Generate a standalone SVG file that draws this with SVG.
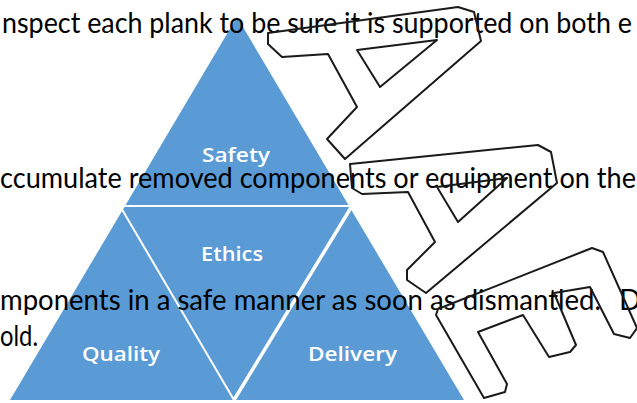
<svg xmlns="http://www.w3.org/2000/svg" width="637" height="403" viewBox="0 0 637 403">
<style>
.body{font-family:Lato,"Liberation Sans",sans-serif;font-size:29px;fill:#000}
.lbl{font-family:"Open Sans","Liberation Sans",sans-serif;font-size:19px;font-weight:600;fill:#fff}
.ol{fill:none;stroke:#1a1a1a;stroke-width:2;stroke-linejoin:round}
.sep{stroke:#fff;fill:none}
</style>
<rect width="637" height="403" fill="#fff"/>
<g id="pyramid">
<polygon points="237,17 464,400 10,400" fill="#5B9BD5"/>
<line class="sep" x1="119" y1="206" x2="353" y2="206" stroke-width="2"/>
<line class="sep" x1="120" y1="206" x2="234" y2="400" stroke-width="2"/>
<line class="sep" x1="352" y1="206" x2="234" y2="400" stroke-width="3.5"/>
</g>
<g id="safety"><text class="lbl" x="202" y="162" textLength="68" lengthAdjust="spacingAndGlyphs">Safety</text></g>
<g id="ethics"><text class="lbl" x="201" y="261" textLength="62" lengthAdjust="spacingAndGlyphs">Ethics</text></g>
<g id="quality"><text class="lbl" x="82" y="361" textLength="78" lengthAdjust="spacingAndGlyphs">Quality</text></g>
<g id="delivery"><text class="lbl" x="308" y="361" textLength="89" lengthAdjust="spacingAndGlyphs">Delivery</text></g>
<g id="body-text">
<text class="body" x="2" y="33" textLength="630" lengthAdjust="spacingAndGlyphs">nspect each plank to be sure it is supported on both e</text>
<text class="body" x="0" y="188" textLength="636" lengthAdjust="spacingAndGlyphs">ccumulate removed components or equipment on the</text>
<text class="body" x="0" y="310" textLength="601" lengthAdjust="spacingAndGlyphs">mponents in a safe manner as soon as dismantled.</text>
<text class="body" x="619" y="310">D</text>
<text class="body" x="0" y="346" textLength="38" lengthAdjust="spacingAndGlyphs">old.</text>
</g>
<g id="letters">
<polygon class="ol" points="268,33 458,7 474,12 481,41 345,159 327,139 357,107 328,54 282,57 268,44"/>
<polygon class="ol" points="357,50 437,40 380,87"/>
<polygon class="ol" points="350,164 538,145 551,152 557,183 426,293 407,280 407,270 435,242 408,192 362,194 352,188"/>
<polygon class="ol" points="437,187 507,178 458,222"/>
<polygon class="ol" points="438,309 592,248 603,252 637,328 630,338 614,334 590,287 554,293 576,345 570,352 549,357 523,315 478,332 507,384 505,392 484,398 436,315"/>
</g>
</svg>
